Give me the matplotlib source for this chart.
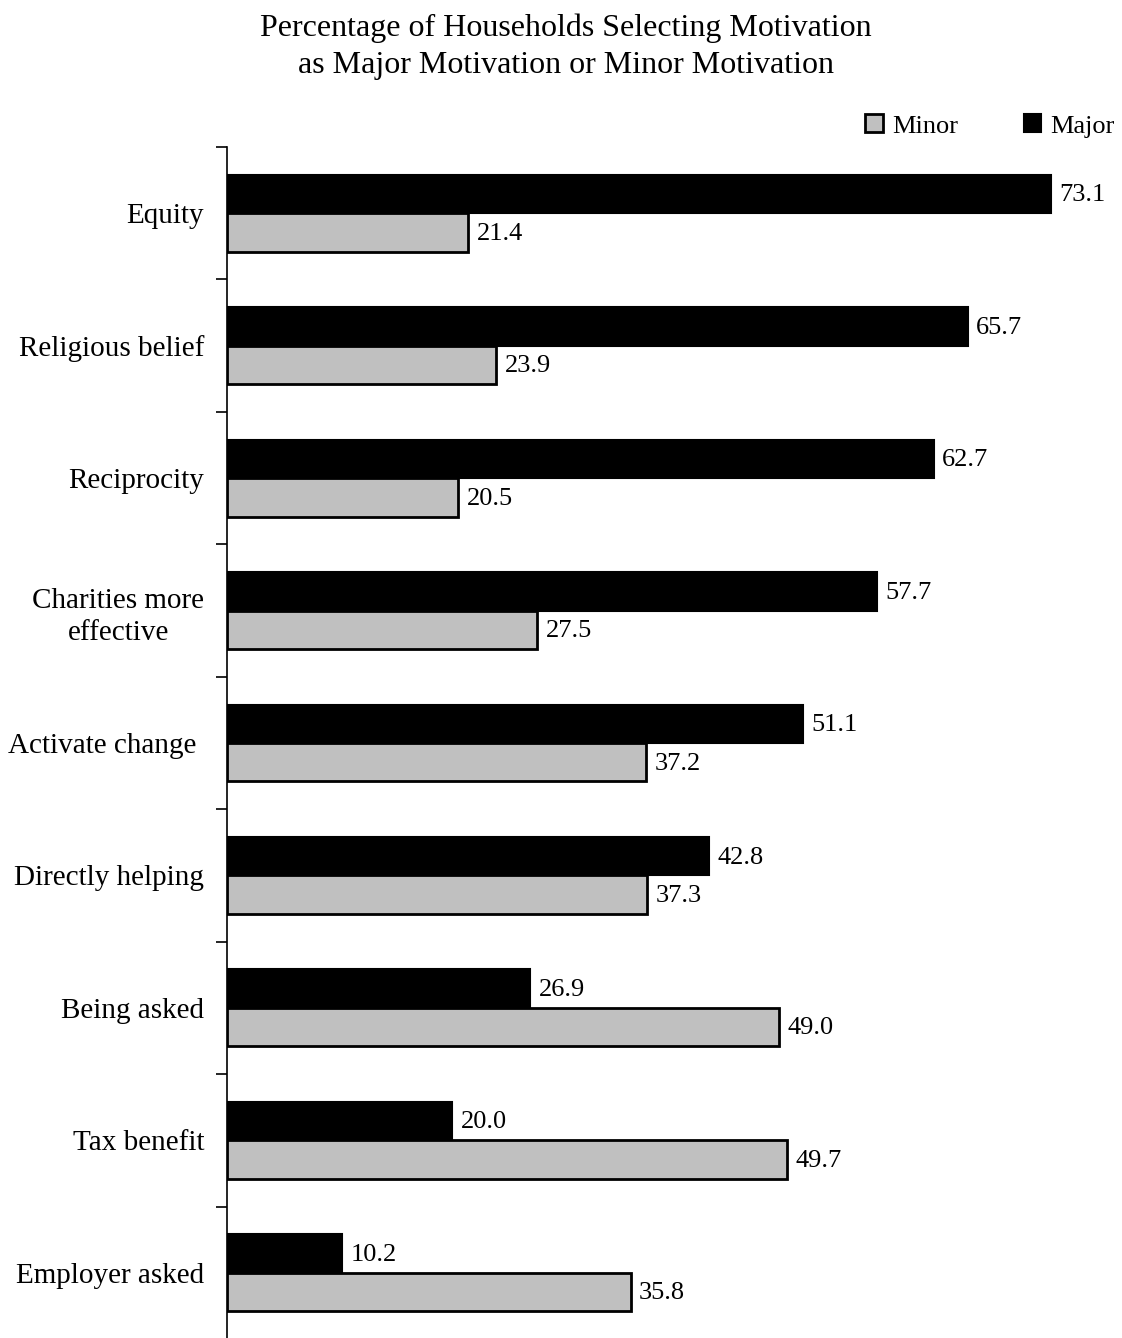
import matplotlib
matplotlib.use("Agg")
import matplotlib.pyplot as plt
import numpy as np

categories = ["Equity", "Religious belief", "Reciprocity", "Charities more\neffective",
              "Activate change ", "Directly helping", "Being asked", "Tax benefit",
              "Employer asked"]
major = [73.1, 65.7, 62.7, 57.7, 51.1, 42.8, 26.9, 20.0, 10.2]
minor = [21.4, 23.9, 20.5, 27.5, 37.2, 37.3, 49.0, 49.7, 35.8]
title = "Percentage of Households Selecting Motivation\nas Major Motivation or Minor Motivation"

plt.rcParams['font.family'] = ['Liberation Serif', 'DejaVu Serif']

W, H = 1122, 1338
fig = plt.figure(figsize=(W / 100, H / 100), dpi=100)
ax_left, ax_top, ax_right = 227, 147, 1122
ax = fig.add_axes([ax_left / W, -1 / H, (ax_right - ax_left) / W, (H - ax_top + 1) / H])

y = np.arange(len(categories))
bh = 0.29
ax.barh(y - bh / 2, major, height=bh, color='black', edgecolor='black', linewidth=1.5, label='Major')
ax.barh(y + bh / 2, minor, height=bh, color='#c0c0c0', edgecolor='black', linewidth=2, label='Minor')

for yi, v in zip(y, major):
    ax.text(v + 0.75, yi - bh / 2 + 0.01, f"{v:.1f}", va='center', ha='left', fontsize=19, clip_on=False)
for yi, v in zip(y, minor):
    ax.text(v + 0.75, yi + bh / 2 + 0.01, f"{v:.1f}", va='center', ha='left', fontsize=19, clip_on=False)

scale = 824 / 73.1
ax.set_xlim(0, (ax_right - ax_left) / scale)
ax.set_ylim(len(categories) - 0.5, -0.5)

for s in ['top', 'right', 'bottom']:
    ax.spines[s].set_visible(False)
ax.spines['left'].set_linewidth(1.2)
ax.set_xticks([])
ax.set_yticks(np.arange(len(categories) + 1) - 0.5)
ax.set_yticklabels([])
ax.tick_params(axis='y', which='major', direction='out', length=8, width=1.2)
ax.set_yticks(y, minor=True)
ax.set_yticklabels(categories, minor=True, fontsize=21, multialignment='center')
for t in ax.get_yticklabels(minor=True):
    t.set_linespacing(1.3)
ax.tick_params(axis='y', which='minor', length=0, pad=16.5)

fig.text(566 / W, 1 - 47 / H, title, ha='center', va='center', fontsize=23, linespacing=1.35)

handles, labels = ax.get_legend_handles_labels()
leg = fig.legend(handles[::-1], labels[::-1], loc='center', bbox_to_anchor=(990 / W, 1 - 126 / H),
                 ncol=2, frameon=False, fontsize=19, handlelength=0.65, handleheight=0.65,
                 handletextpad=0.35, columnspacing=2.5)

fig.savefig("out.png", dpi=100)
